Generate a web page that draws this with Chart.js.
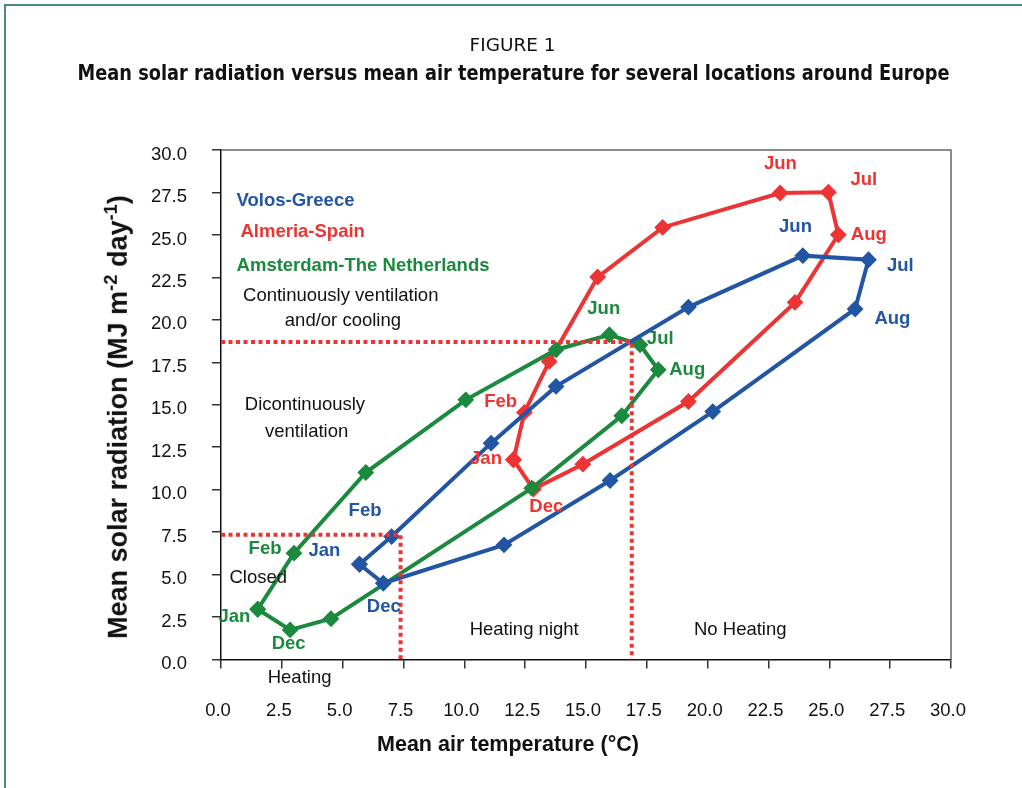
<!DOCTYPE html>
<html>
<head>
<meta charset="utf-8">
<script src="https://cdn.jsdelivr.net/npm/chart.js@4.4.1/dist/chart.umd.min.js"></script>
<style>
  html, body { margin: 0; padding: 0; background: #fff; width: 1022px; height: 788px; overflow: hidden; }
  #frame { position: absolute; left: 4px; top: 4px; width: 1060px; height: 820px;
           border-left: 2px solid #4a8b79; border-top: 2px solid #4a8b79; }
  #chartBox { position: absolute; left: 0; top: 0; width: 1022px; height: 788px; }
  .t { position: absolute; white-space: nowrap; color: #111; line-height: 1; }
  .cond { font-family: "Liberation Sans Narrow", "Arial Narrow", "DejaVu Sans Condensed", "Liberation Sans", Arial, sans-serif; font-stretch: condensed; }
  #fig1 { font-size: 17px; }
  #fig1title { font-size: 21px; font-weight: bold; }
  #xTitle { font-family: "Liberation Sans", Arial, sans-serif; font-weight: bold; font-size: 21.5px; }
  #yTitle { font-family: "Liberation Sans", Arial, sans-serif; font-weight: bold; font-size: 27px; }
  #yTitle sup { font-size: 68%; vertical-align: 0.55em; }
</style>
</head>
<body>
<div id="frame"></div>
<div id="chartBox"><canvas id="c" width="1022" height="788"></canvas></div>
<div id="fig1" class="t cond">FIGURE 1</div>
<div id="fig1title" class="t cond">Mean solar radiation versus mean air temperature for several locations around Europe</div>
<div id="xTitle" class="t">Mean air temperature (°C)</div>
<div id="yTitle" class="t">Mean solar radiation (MJ m<sup>-2</sup> day<sup>-1</sup>)</div>
<script>
// ---------------- data ----------------
const months = ['Jan','Feb','Mar','Apr','May','Jun','Jul','Aug','Sep','Oct','Nov','Dec'];

const volosTemp = [5.69, 7.01, 11.10, 13.77, 19.21, 23.91, 26.61, 26.06, 20.21, 15.99, 11.63, 6.67];
const volosRad  = [5.61, 7.24, 12.74, 16.08, 20.75, 23.78, 23.54, 20.64, 14.60, 10.54, 6.75, 4.49];

const almeriaTemp = [12.02, 12.47, 13.49, 15.48, 18.15, 22.98, 24.96, 25.37, 23.59, 19.21, 14.87, 12.84];
const almeriaRad  = [11.76, 14.55, 17.55, 22.52, 25.44, 27.47, 27.51, 25.01, 21.03, 15.19, 11.50, 10.03];

const amsterdamTemp = [1.51, 3.00, 5.95, 10.06, 13.77, 15.96, 17.22, 17.97, 16.47, 12.77, 4.52, 2.84];
const amsterdamRad  = [2.96, 6.26, 11.01, 15.29, 18.24, 19.12, 18.53, 17.06, 14.35, 10.09, 2.40, 1.74];

// threshold (dotted) lines
const coolLimitTemp = [0, 16.88, 16.88];
const coolLimitRad  = [18.69, 18.69, 0];
const heatLimitTemp = [0, 7.38, 7.38];
const heatLimitRad  = [7.34, 7.34, 0];

const xTickValues = [0, 2.5, 5, 7.5, 10, 12.5, 15, 17.5, 20, 22.5, 25, 27.5, 30];
const xTickLabels = ['0.0','2.5','5.0','7.5','10.0','12.5','15.0','17.5','20.0','22.5','25.0','27.5','30.0'];
const yTickValues = [0, 2.5, 5, 7.5, 10, 12.5, 15, 17.5, 20, 22.5, 25, 27.5, 30];
const yTickLabels = ['0.0','2.5','5.0','7.5','10.0','12.5','15.0','17.5','20.0','22.5','25.0','27.5','30.0'];

// ---------------- styles ----------------
const BLUE = '#2355a5', RED = '#ec3434', GREEN = '#1b8a3f', INK = '#111111';
const FONT = '"Liberation Sans", Arial, sans-serif';

// annotations in data coordinates (label text, anchor temp, anchor radiation)
const annotations = [
  { text: 'Volos-Greece', x: 0.64, y: 26.98, color: BLUE, bold: true, align: 'left' },
  { text: 'Almeria-Spain', x: 0.80, y: 25.15, color: RED, bold: true, align: 'left' },
  { text: 'Amsterdam-The Netherlands', x: 0.64, y: 23.15, color: GREEN, bold: true, align: 'left' },
  { text: 'Jun', x: 23.61, y: 25.47, color: BLUE, bold: true },
  { text: 'Jul', x: 27.92, y: 23.19, color: BLUE, bold: true },
  { text: 'Aug', x: 27.59, y: 20.05, color: BLUE, bold: true },
  { text: 'Feb', x: 5.92, y: 8.77, color: BLUE, bold: true },
  { text: 'Jan', x: 4.25, y: 6.39, color: BLUE, bold: true },
  { text: 'Dec', x: 6.69, y: 3.11, color: BLUE, bold: true },
  { text: 'Jun', x: 22.99, y: 29.20, color: RED, bold: true },
  { text: 'Jul', x: 26.42, y: 28.26, color: RED, bold: true },
  { text: 'Aug', x: 26.62, y: 25.02, color: RED, bold: true },
  { text: 'Feb', x: 11.49, y: 15.14, color: RED, bold: true },
  { text: 'Jan', x: 10.89, y: 11.80, color: RED, bold: true },
  { text: 'Dec', x: 13.37, y: 8.97, color: RED, bold: true },
  { text: 'Jun', x: 15.73, y: 20.64, color: GREEN, bold: true },
  { text: 'Jul', x: 18.05, y: 18.87, color: GREEN, bold: true },
  { text: 'Aug', x: 19.16, y: 17.06, color: GREEN, bold: true },
  { text: 'Feb', x: 1.81, y: 6.51, color: GREEN, bold: true },
  { text: 'Jan', x: 0.55, y: 2.52, color: GREEN, bold: true },
  { text: 'Dec', x: 2.78, y: 0.90, color: GREEN, bold: true },
  { text: 'Continuously ventilation', x: 4.92, y: 21.42, color: INK },
  { text: 'and/or cooling', x: 5.01, y: 19.91, color: INK },
  { text: 'Dicontinuously', x: 3.45, y: 15.00, color: INK },
  { text: 'ventilation', x: 3.52, y: 13.43, color: INK },
  { text: 'Closed', x: 1.53, y: 4.79, color: INK },
  { text: 'Heating', x: 3.23, y: -1.11, color: INK },
  { text: 'Heating night', x: 12.46, y: 1.74, color: INK },
  { text: 'No Heating', x: 21.34, y: 1.74, color: INK }
];

function loop(xs, ys) {
  const pts = xs.map((v, i) => ({ x: v, y: ys[i] }));
  pts.push({ x: xs[0], y: ys[0] });
  return pts;
}
function path(xs, ys) { return xs.map((v, i) => ({ x: v, y: ys[i] })); }

function seriesDS(label, xs, ys, color) {
  return {
    label, data: loop(xs, ys), borderColor: color, backgroundColor: color,
    borderWidth: 4, tension: 0, showLine: true, fill: false,
    pointStyle: 'rectRot', pointRadius: 7, pointBorderWidth: 2,
    pointBackgroundColor: color, pointBorderColor: color
  };
}
function dottedDS(label, xs, ys) {
  return {
    label, data: path(xs, ys), borderColor: RED, borderWidth: 4, borderDash: [4, 3.5],
    borderCapStyle: 'butt', pointRadius: 0, tension: 0, showLine: true, fill: false
  };
}

const frameBox = {
  id: 'frameBox',
  beforeDatasetsDraw(chart) {
    const { ctx, chartArea: a } = chart;
    ctx.save();
    ctx.strokeStyle = '#666';
    ctx.lineWidth = 1.5;
    ctx.beginPath();
    ctx.moveTo(a.left, a.top);
    ctx.lineTo(a.right, a.top);
    ctx.lineTo(a.right, a.bottom);
    ctx.stroke();
    ctx.restore();
  }
};

const textLabels = {
  id: 'textLabels',
  afterDraw(chart) {
    const { ctx, scales } = chart;
    ctx.save();
    ctx.textBaseline = 'middle';
    annotations.forEach(a => {
      ctx.font = (a.bold ? 'bold ' : '') + '18.5px ' + FONT;
      ctx.fillStyle = a.color;
      ctx.textAlign = a.align || 'center';
      ctx.fillText(a.text, scales.x.getPixelForValue(a.x), scales.y.getPixelForValue(a.y));
    });
    ctx.restore();
  }
};

new Chart(document.getElementById('c'), {
  type: 'line',
  data: {
    datasets: [
      dottedDS('Cooling limit', coolLimitTemp, coolLimitRad),
      dottedDS('Heating limit', heatLimitTemp, heatLimitRad),
      seriesDS('Volos-Greece', volosTemp, volosRad, BLUE),
      seriesDS('Amsterdam-The Netherlands', amsterdamTemp, amsterdamRad, GREEN),
      seriesDS('Almeria-Spain', almeriaTemp, almeriaRad, RED)
    ]
  },
  options: {
    responsive: false,
    animation: false,
    layout: { padding: { left: 0, right: 71, top: 150, bottom: 0 } },
    plugins: { legend: { display: false }, tooltip: { enabled: false }, title: { display: false } },
    scales: {
      x: {
        type: 'linear', min: 0, max: 30,
        afterFit(s) { s.height = 128.5; },
        afterBuildTicks(s) { s.ticks = xTickValues.map(v => ({ value: v })); },
        ticks: {
          autoSkip: false, maxRotation: 0, padding: 31, labelOffset: -3, color: INK,
          font: { family: FONT, size: 18.5 },
          callback: (v, i) => xTickLabels[i]
        },
        grid: { drawOnChartArea: false, drawTicks: true, tickLength: 9, color: '#333', lineWidth: 1.5 },
        border: { display: true, color: '#111', width: 1.5 }
      },
      y: {
        type: 'linear', min: 0, max: 30,
        afterFit(s) { s.width = 221; },
        afterBuildTicks(s) { s.ticks = yTickValues.map(v => ({ value: v })); },
        ticks: {
          autoSkip: false, padding: 25, labelOffset: 4.5, color: INK,
          font: { family: FONT, size: 18.5 },
          callback: (v, i) => yTickLabels[i]
        },
        grid: { drawOnChartArea: false, drawTicks: true, tickLength: 9, color: '#333', lineWidth: 1.5 },
        border: { display: true, color: '#111', width: 1.5 }
      }
    }
  },
  plugins: [frameBox, textLabels]
});

// ---------------- HTML titles placement ----------------
function place(id, cx, cy, targetW) {
  const el = document.getElementById(id);
  const r = el.getBoundingClientRect();
  el.style.left = (cx - r.width / 2) + 'px';
  el.style.top = (cy - r.height / 2) + 'px';
  if (targetW) {
    el.style.transformOrigin = '50% 50%';
    el.style.transform = 'scaleX(' + (targetW / r.width) + ')';
  }
}
place('fig1', 513, 45, 86);
place('fig1title', 514, 73, 872);
place('xTitle', 508, 745);
(function () {
  const el = document.getElementById('yTitle');
  const r = el.getBoundingClientRect();
  el.style.left = (117 - r.width / 2) + 'px';
  el.style.top = (417 - r.height / 2) + 'px';
  el.style.transformOrigin = '50% 50%';
  el.style.transform = 'rotate(-90deg)';
})();
</script>
</body>
</html>
